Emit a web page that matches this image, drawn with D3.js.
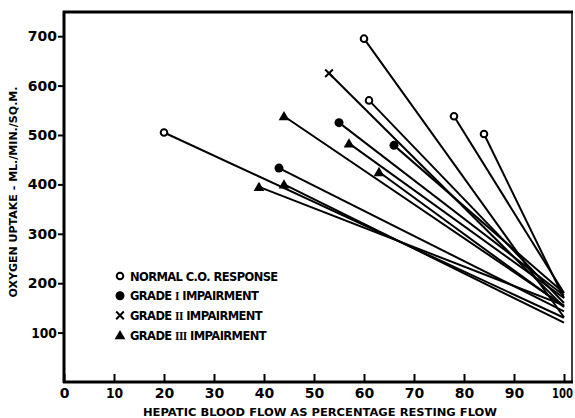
<html>
<head>
<script src="https://d3js.org/d3.v7.min.js"></script>
<style>
body { margin: 0; padding: 0; background: #fff; }
svg { background: #fff; }
.axis text { font-family: 'DejaVu Sans', sans-serif; font-weight: bold; font-size: 14px; fill: #000; }
.axis line { stroke: #000; stroke-width: 2; }
.axis path { display: none; }
.lbl { font-family: 'DejaVu Sans', sans-serif; font-weight: bold; fill: #000; }
</style>
</head>
<body>
<script>
var width = 575, height = 418;

// Data: each line runs from a marker to 100% flow
var groups = ["normal", "grade1", "grade2", "grade3"];
var legendLabels = ["NORMAL C.O. RESPONSE", "GRADE ", "GRADE ", "GRADE "];
var legendNumerals = ["", "I", "II", "III"];

var startFlow   = [20, 60, 61, 78, 84, 55, 66, 43, 53, 44, 57, 63, 44, 39];
var startUptake = [505, 695, 570, 538, 502, 525, 479, 433, 625, 538, 483, 425, 400, 395];
var endUptake   = [130, 131, 160, 180, 170, 175, 180, 143, 152, 154, 170, 152, 120, 155];
var groupOf     = ["normal", "normal", "normal", "normal", "normal", "grade1", "grade1", "grade1",
                   "grade2", "grade3", "grade3", "grade3", "grade3", "grade3"];
var endFlow = 100;

var xTicks = [0, 10, 20, 30, 40, 50, 60, 70, 80, 90, 100];
var yTicks = [100, 200, 300, 400, 500, 600, 700];

var x = d3.scaleLinear().domain([0, 100]).range([64, 564]);
var y = d3.scaleLinear().domain([0, 750]).range([382, 11.5]);

var svg = d3.select("body").append("svg")
    .attr("width", width)
    .attr("height", height);

// frame
svg.append("line").attr("x1", 64).attr("x2", 64).attr("y1", 11).attr("y2", 383)
    .attr("stroke", "#000").attr("stroke-width", 3);
svg.append("line").attr("x1", 63).attr("x2", 573).attr("y1", 12).attr("y2", 12)
    .attr("stroke", "#000").attr("stroke-width", 3);
svg.append("line").attr("x1", 63).attr("x2", 573).attr("y1", 382).attr("y2", 382)
    .attr("stroke", "#000").attr("stroke-width", 3);
svg.append("line").attr("x1", 572).attr("x2", 572).attr("y1", 12).attr("y2", 382)
    .attr("stroke", "#000").attr("stroke-width", 1.5);

// axes
var yAxisG = svg.append("g")
    .attr("class", "axis")
    .attr("transform", "translate(64,0)")
    .call(d3.axisLeft(y).tickValues(yTicks).tickSize(6).tickPadding(1));

var xAxisG = svg.append("g")
    .attr("class", "axis")
    .attr("transform", "translate(0,382)")
    .call(d3.axisBottom(x).tickValues(xTicks).tickSizeInner(-8).tickSizeOuter(0).tickPadding(6));

// the "1" in the original lettering is narrow
yAxisG.selectAll("text").filter(function (d) { return d == 100; })
    .attr("transform", "translate(-1,0) scale(0.88,1)");
xAxisG.selectAll("text").filter(function (d) { return d == 100; })
    .attr("transform", "translate(-2,0) scale(0.72,1)");
xAxisG.selectAll("text").filter(function (d) { return d == 10; })
    .attr("transform", "scale(0.88,1)");

// lines
var idx = d3.range(startFlow.length);
svg.append("g").selectAll("line")
    .data(idx)
    .enter().append("line")
    .attr("x1", function (i) { return x(startFlow[i]); })
    .attr("y1", function (i) { return y(startUptake[i]); })
    .attr("x2", x(endFlow))
    .attr("y2", function (i) { return y(endUptake[i]); })
    .attr("stroke", "#000")
    .attr("stroke-width", 2);

function drawMarker(g, grp, cx, cy) {
    if (grp == "normal") {
        g.append("circle").attr("cx", cx).attr("cy", cy).attr("r", 3.3)
            .attr("fill", "#fff").attr("stroke", "#000").attr("stroke-width", 2);
    } else if (grp == "grade1") {
        g.append("circle").attr("cx", cx).attr("cy", cy).attr("r", 4.5).attr("fill", "#000");
    } else if (grp == "grade2") {
        g.append("path").attr("transform", "translate(" + cx + "," + cy + ")")
            .attr("d", d3.symbol().type(d3.symbolX).size(40)())
            .attr("stroke", "#000").attr("stroke-width", 2).attr("fill", "none");
    } else {
        g.append("path").attr("transform", "translate(" + cx + "," + (cy + 1) + ")")
            .attr("d", d3.symbol().type(d3.symbolTriangle).size(50)())
            .attr("fill", "#000");
    }
}

var marks = svg.append("g");
idx.forEach(function (i) {
    drawMarker(marks, groupOf[i], x(startFlow[i]), y(startUptake[i]));
});

// legend
var leg = svg.append("g");
groups.forEach(function (grp, k) {
    var ly = 276 + k * 19.7;
    drawMarker(leg, grp, 120, ly);
    var t = leg.append("text")
        .attr("class", "lbl")
        .attr("x", 130)
        .attr("y", ly + 4.5)
        .style("font-size", "11.5px")
        .style("letter-spacing", "-0.6px");
    t.append("tspan").text(legendLabels[k]);
    if (legendNumerals[k]) {
        t.append("tspan").style("font-family", "'Liberation Serif', serif").text(legendNumerals[k]);
        t.append("tspan").text(" IMPAIRMENT");
    }
});

// axis titles
svg.append("text")
    .attr("class", "lbl")
    .attr("text-anchor", "middle")
    .attr("transform", "translate(17,192) rotate(-90)")
    .attr("textLength", 211)
    .attr("lengthAdjust", "spacingAndGlyphs")
    .style("font-size", "10.5px")
    .text("OXYGEN UPTAKE - ML./MIN./SQ.M.");

svg.append("text")
    .attr("class", "lbl")
    .attr("text-anchor", "middle")
    .attr("x", 320)
    .attr("y", 416)
    .attr("textLength", 354)
    .attr("lengthAdjust", "spacingAndGlyphs")
    .style("font-size", "11px")
    .text("HEPATIC BLOOD FLOW AS  PERCENTAGE  RESTING  FLOW");
</script>
</body>
</html>
